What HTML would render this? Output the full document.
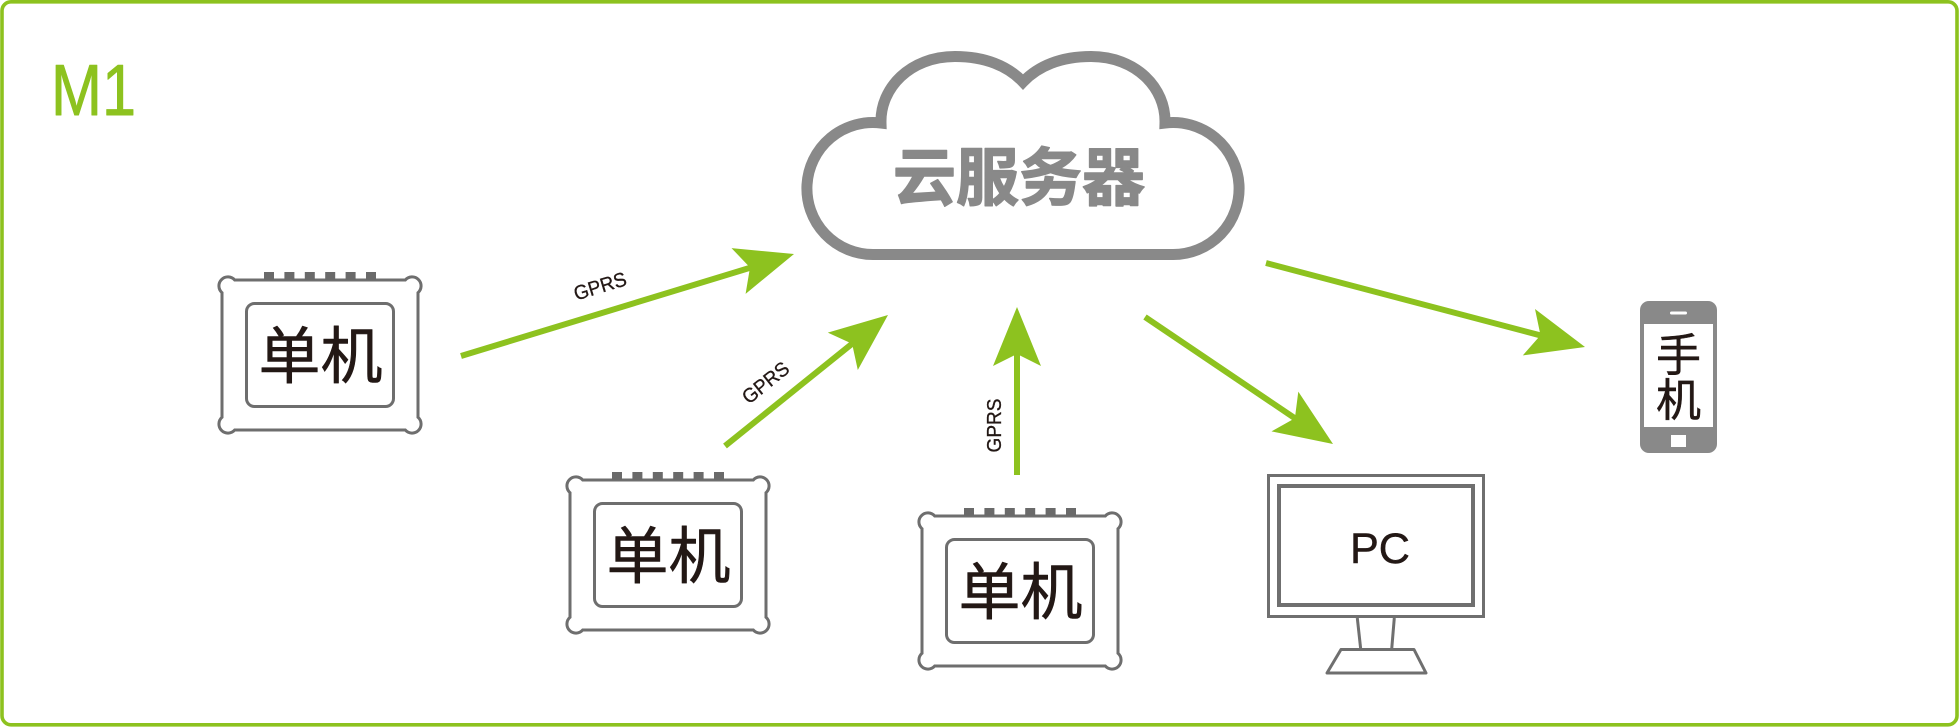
<!DOCTYPE html>
<html>
<head>
<meta charset="utf-8">
<style>
  html, body { margin: 0; padding: 0; background: #ffffff; }
  body { width: 1960px; height: 728px; overflow: hidden; }
  svg { display: block; }
</style>
</head>
<body>
<svg width="1960" height="728" viewBox="0 0 1960 728" xmlns="http://www.w3.org/2000/svg">
  <defs>
    <g id="dev">
      <path d="M17.7,5 L188.3,5 A9 9 0 1 1 201,17.7 L201,142.3 A9 9 0 1 1 188.3,155 L17.7,155 A9 9 0 1 1 5,142.3 L5,17.7 A9 9 0 1 1 17.7,5 Z" fill="#ffffff" stroke="#6e6e6e" stroke-width="3"/>
      <rect x="29.5" y="28.5" width="147" height="103" rx="8" ry="8" fill="none" stroke="#6e6e6e" stroke-width="3"/>
      <rect x="47" y="-3" width="10" height="8" fill="#6a6a6a"/>
      <rect x="67.4" y="-3" width="10" height="8" fill="#6a6a6a"/>
      <rect x="87.8" y="-3" width="10" height="8" fill="#6a6a6a"/>
      <rect x="108.2" y="-3" width="10" height="8" fill="#6a6a6a"/>
      <rect x="128.6" y="-3" width="10" height="8" fill="#6a6a6a"/>
      <rect x="149" y="-3" width="10" height="8" fill="#6a6a6a"/>
    </g>
  </defs>

  <!-- outer border -->
  <rect x="2" y="1.8" width="1955" height="723" rx="9" ry="9" fill="none" stroke="#8dc21f" stroke-width="3.6"/>

  <!-- M1 title -->
  <text x="51" y="115" font-family="'Liberation Sans', Arimo, Arial, sans-serif" font-size="72" fill="#8dc21f" stroke="#8dc21f" stroke-width="0.9" stroke-linejoin="round" textLength="85" lengthAdjust="spacingAndGlyphs">M1</text>

  <!-- cloud -->
  <path d="M881,123 C880,88 910,56.5 955,56.5 C985,56.5 1008,66 1023,82 C1038,66 1061,56.5 1091,56.5 C1136,56.5 1166,88 1165,123 A66 66 0 1 1 1172.5,254.5 L873.5,254.5 A66 66 0 1 1 881,123 Z" fill="#ffffff" stroke="#898989" stroke-width="11" stroke-linejoin="miter"/>
  <text x="1019" y="200" font-family="'Liberation Sans', 'Noto Sans CJK SC', 'WenQuanYi Zen Hei', sans-serif" font-size="63" font-weight="700" fill="#898989" stroke="#898989" stroke-width="1.4" stroke-linejoin="round" text-anchor="middle">云服务器</text>

  <!-- devices -->
  <use href="#dev" x="217" y="275"/>
  <use href="#dev" x="565" y="475"/>
  <use href="#dev" x="917" y="511"/>
  <g font-family="'Liberation Sans', 'Noto Sans CJK SC', 'WenQuanYi Zen Hei', sans-serif" font-size="62" fill="#231815" stroke="#231815" stroke-width="0.6" stroke-linejoin="round" text-anchor="middle">
    <text x="320.5" y="378">单机</text>
    <text x="668.5" y="578">单机</text>
    <text x="1020.5" y="614">单机</text>
  </g>

  <!-- arrows -->
  <g fill="#8dc21f" stroke="none">
    <line x1="461" y1="356" x2="751" y2="267.5" stroke="#8dc21f" stroke-width="6"/>
    <polygon points="794,254 731.5,248.1 750,267.5 745.6,293.9"/>
    <line x1="725" y1="446" x2="853" y2="343" stroke="#8dc21f" stroke-width="6"/>
    <polygon points="888,315 827.8,332.6 852.1,343.8 857.8,370"/>
    <line x1="1017" y1="475" x2="1017" y2="350" stroke="#8dc21f" stroke-width="6"/>
    <polygon points="1017,307 993,366 1017,354 1041,366"/>
    <line x1="1145" y1="317" x2="1296" y2="419" stroke="#8dc21f" stroke-width="6"/>
    <polygon points="1333,444 1298.3,391.6 1294.9,418.3 1271.5,431.4"/>
    <line x1="1266" y1="263" x2="1542" y2="335.8" stroke="#8dc21f" stroke-width="6"/>
    <polygon points="1585,347 1535,309 1540.5,335.3 1522.8,355.4"/>
  </g>

  <!-- GPRS labels -->
  <g font-family="'Liberation Sans', Arimo, Arial, sans-serif" font-size="20" fill="#231815" stroke="#231815" stroke-width="0.3" text-anchor="middle">
    <text transform="translate(600,286) rotate(-17)" dy="7" textLength="54" lengthAdjust="spacingAndGlyphs">GPRS</text>
    <text transform="translate(765.5,382.5) rotate(-38.8)" dy="7" textLength="54" lengthAdjust="spacingAndGlyphs">GPRS</text>
    <text transform="translate(994,425.5) rotate(-90)" dy="7" textLength="54" lengthAdjust="spacingAndGlyphs">GPRS</text>
  </g>

  <!-- PC -->
  <rect x="1268.5" y="475.5" width="215" height="141" fill="#ffffff" stroke="#6f6f6f" stroke-width="3"/>
  <rect x="1279" y="486" width="194" height="119" fill="#ffffff" stroke="#6f6f6f" stroke-width="4"/>
  <text x="1380" y="563" font-family="'Liberation Sans', Arimo, Arial, sans-serif" font-size="43" fill="#231815" stroke="#231815" stroke-width="0.5" text-anchor="middle" textLength="60" lengthAdjust="spacingAndGlyphs">PC</text>
  <line x1="1357.3" y1="618" x2="1360.7" y2="649" stroke="#6f6f6f" stroke-width="3"/>
  <line x1="1394.3" y1="618" x2="1391.7" y2="649" stroke="#6f6f6f" stroke-width="3"/>
  <polygon points="1341,649.5 1414,649.5 1426,673 1327,673" fill="#ffffff" stroke="#6f6f6f" stroke-width="3" stroke-linejoin="round"/>

  <!-- phone -->
  <rect x="1640" y="301" width="77" height="152" rx="9" ry="9" fill="#898989"/>
  <rect x="1644" y="324" width="69" height="103" fill="#ffffff"/>
  <rect x="1670" y="311.5" width="17" height="3" rx="1.5" fill="#ffffff"/>
  <rect x="1671" y="435" width="15" height="12" fill="#ffffff"/>
  <g font-family="'Liberation Sans', 'Noto Sans CJK SC', 'WenQuanYi Zen Hei', sans-serif" font-size="45" fill="#231815" stroke="#231815" stroke-width="0.5" text-anchor="middle">
    <text x="1678.5" y="371">手</text>
    <text x="1678.5" y="416">机</text>
  </g>
</svg>
</body>
</html>
